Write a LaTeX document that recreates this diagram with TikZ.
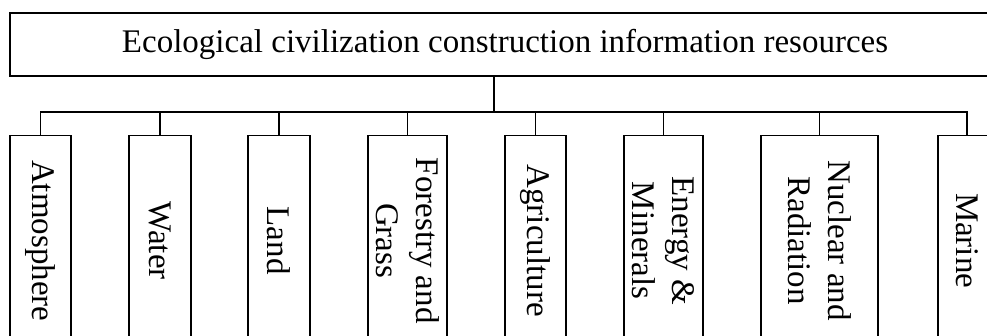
\documentclass[tikz,border=0pt]{standalone}
\usepackage{fontspec}
\setmainfont{Liberation Serif}
\begin{document}
\begin{tikzpicture}[x=1pt,y=-1pt,line width=1.3pt]
  \tikzstyle{every node}=[font=\fontsize{33}{40}\selectfont, inner sep=0pt]
  \tikzstyle{root}=[draw, minimum width=990pt, minimum height=63pt]
  \tikzstyle{leaf}=[draw, rotate=-90, anchor=west, align=center, minimum width=210pt]
  \useasboundingbox (0,0) rectangle (987,336);
  \clip (0,0) rectangle (987,336);
  \node[root] (eco) at (505,44.5) {Ecological civilization construction information resources};
  \node[leaf, minimum height=61pt] (atm) at (40.5,135) {Atmosphere};
  \node[leaf, minimum height=62pt] (wat) at (160,135) {Water};
  \node[leaf, minimum height=62pt] (lan) at (279,135) {Land};
  \node[leaf, minimum height=79pt] (for) at (407.5,135) {Forestry and\\Grass};
  \node[leaf, minimum height=61pt] (agr) at (535.5,135) {Agriculture};
  \node[leaf, minimum height=79pt] (ene) at (663.5,135) {Energy \&\\Minerals};
  \node[leaf, minimum height=117pt] (nuc) at (819.5,135) {Nuclear and\\Radiation};
  \node[leaf, minimum height=58pt] (mar) at (967,135) {Marine};
  \coordinate (bus) at (494,112);
  \draw (bus) -- (bus |- eco.south);
  \draw (bus) -| (atm.west);
  \draw (bus) -| (wat.west);
  \draw (bus) -| (lan.west);
  \draw (bus) -| (for.west);
  \draw (bus) -| (agr.west);
  \draw (bus) -| (ene.west);
  \draw (bus) -| (nuc.west);
  \draw (bus) -| (mar.west);
\end{tikzpicture}
\end{document}
